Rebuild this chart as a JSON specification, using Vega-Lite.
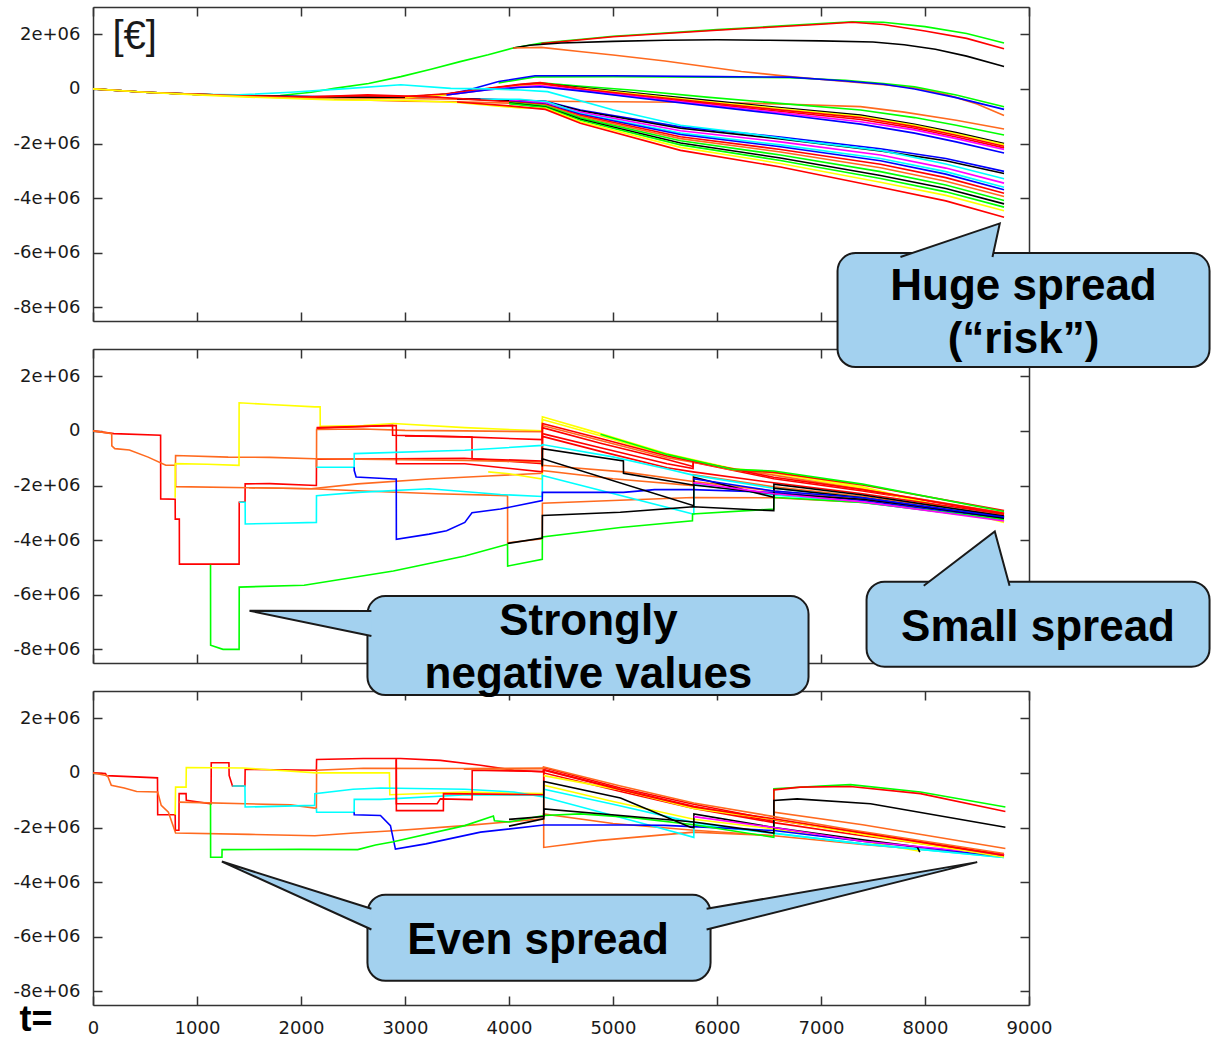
{
"$schema": "https://vega.github.io/schema/vega-lite/v6.json",
"padding": {"left": 12, "top": 6, "right": 0, "bottom": 0},
"bounds": "flush",
"spacing": 28,
"config": {
  "view": {"stroke": null},
  "axis": {"grid": false, "domainColor": "#333333", "domainWidth": 1.5, "tickColor": "#333333", "tickWidth": 1.5, "tickSize": -9, "labelFont": "DejaVu Sans", "labelFontSize": 18, "labelColor": "#1a1a1a", "labelOverlap": false, "labelFlush": false}
},
"datasets": {
"p1": [
{"s":"a1","c":"g","t":0,"v":0},{"s":"a1","c":"g","t":500,"v":-0.12e6},{"s":"a1","c":"g","t":1000,"v":-0.2e6},{"s":"a1","c":"g","t":1500,"v":-0.25e6},{"s":"a1","c":"g","t":1800,"v":-0.24e6},{"s":"a1","c":"g","t":2100,"v":-0.12e6},{"s":"a1","c":"g","t":2320,"v":0.02e6},{"s":"a1","c":"g","t":2650,"v":0.2e6},{"s":"a1","c":"g","t":2960,"v":0.45e6},{"s":"a1","c":"g","t":3250,"v":0.72e6},{"s":"a1","c":"g","t":3530,"v":1.0e6},{"s":"a1","c":"g","t":3800,"v":1.25e6},{"s":"a1","c":"g","t":4040,"v":1.5e6},{"s":"a1","c":"g","t":4310,"v":1.68e6},{"s":"a1","c":"g","t":4700,"v":1.82e6},{"s":"a1","c":"g","t":5000,"v":1.93e6},{"s":"a1","c":"g","t":5500,"v":2.05e6},{"s":"a1","c":"g","t":6000,"v":2.17e6},{"s":"a1","c":"g","t":6500,"v":2.28e6},{"s":"a1","c":"g","t":7000,"v":2.39e6},{"s":"a1","c":"g","t":7300,"v":2.46e6},{"s":"a1","c":"g","t":7600,"v":2.44e6},{"s":"a1","c":"g","t":8000,"v":2.28e6},{"s":"a1","c":"g","t":8400,"v":2.03e6},{"s":"a1","c":"g","t":8760,"v":1.68e6},
{"s":"a2","c":"r","t":4310,"v":1.66e6},{"s":"a2","c":"r","t":4700,"v":1.8e6},{"s":"a2","c":"r","t":5000,"v":1.91e6},{"s":"a2","c":"r","t":5500,"v":2.03e6},{"s":"a2","c":"r","t":6000,"v":2.15e6},{"s":"a2","c":"r","t":6500,"v":2.26e6},{"s":"a2","c":"r","t":7000,"v":2.37e6},{"s":"a2","c":"r","t":7300,"v":2.44e6},{"s":"a2","c":"r","t":7600,"v":2.36e6},{"s":"a2","c":"r","t":8000,"v":2.12e6},{"s":"a2","c":"r","t":8400,"v":1.85e6},{"s":"a2","c":"r","t":8760,"v":1.47e6},
{"s":"a3","c":"k","t":4040,"v":1.5e6},{"s":"a3","c":"k","t":4200,"v":1.6e6},{"s":"a3","c":"k","t":4500,"v":1.68e6},{"s":"a3","c":"k","t":5000,"v":1.74e6},{"s":"a3","c":"k","t":5500,"v":1.78e6},{"s":"a3","c":"k","t":6000,"v":1.8e6},{"s":"a3","c":"k","t":6500,"v":1.78e6},{"s":"a3","c":"k","t":7000,"v":1.76e6},{"s":"a3","c":"k","t":7500,"v":1.72e6},{"s":"a3","c":"k","t":7800,"v":1.62e6},{"s":"a3","c":"k","t":8100,"v":1.45e6},{"s":"a3","c":"k","t":8400,"v":1.2e6},{"s":"a3","c":"k","t":8760,"v":0.82e6},
{"s":"a4","c":"o","t":4040,"v":1.5e6},{"s":"a4","c":"o","t":4310,"v":1.52e6},{"s":"a4","c":"o","t":4700,"v":1.36e6},{"s":"a4","c":"o","t":5000,"v":1.24e6},{"s":"a4","c":"o","t":5500,"v":1.02e6},{"s":"a4","c":"o","t":6235,"v":0.64e6},{"s":"a4","c":"o","t":6700,"v":0.45e6},{"s":"a4","c":"o","t":7235,"v":0.27e6},{"s":"a4","c":"o","t":7600,"v":0.15e6},{"s":"a4","c":"o","t":7900,"v":0.04e6},{"s":"a4","c":"o","t":8200,"v":-0.2e6},{"s":"a4","c":"o","t":8500,"v":-0.55e6},{"s":"a4","c":"o","t":8760,"v":-0.97e6},
{"s":"a5","c":"g","t":3900,"v":0.22e6},{"s":"a5","c":"g","t":4250,"v":0.44e6},{"s":"a5","c":"g","t":5000,"v":0.45e6},{"s":"a5","c":"g","t":6000,"v":0.43e6},{"s":"a5","c":"g","t":6700,"v":0.41e6},{"s":"a5","c":"g","t":7235,"v":0.32e6},{"s":"a5","c":"g","t":7600,"v":0.2e6},{"s":"a5","c":"g","t":7900,"v":0.08e6},{"s":"a5","c":"g","t":8300,"v":-0.22e6},{"s":"a5","c":"g","t":8760,"v":-0.65e6},
{"s":"a6","c":"b","t":0,"v":0},{"s":"a6","c":"b","t":500,"v":-0.12e6},{"s":"a6","c":"b","t":1000,"v":-0.2e6},{"s":"a6","c":"b","t":1500,"v":-0.25e6},{"s":"a6","c":"b","t":2500,"v":-0.3e6},{"s":"a6","c":"b","t":3000,"v":-0.32e6},{"s":"a6","c":"b","t":3300,"v":-0.27e6},{"s":"a6","c":"b","t":3600,"v":-0.05e6},{"s":"a6","c":"b","t":3900,"v":0.27e6},{"s":"a6","c":"b","t":4250,"v":0.48e6},{"s":"a6","c":"b","t":5000,"v":0.48e6},{"s":"a6","c":"b","t":6000,"v":0.45e6},{"s":"a6","c":"b","t":6700,"v":0.43e6},{"s":"a6","c":"b","t":7235,"v":0.29e6},{"s":"a6","c":"b","t":7600,"v":0.17e6},{"s":"a6","c":"b","t":7900,"v":0},{"s":"a6","c":"b","t":8300,"v":-0.32e6},{"s":"a6","c":"b","t":8760,"v":-0.75e6},
{"s":"b1","c":"o","t":0,"v":0},{"s":"b1","c":"o","t":500,"v":-0.12e6},{"s":"b1","c":"o","t":1000,"v":-0.2e6},{"s":"b1","c":"o","t":1500,"v":-0.25e6},{"s":"b1","c":"o","t":2000,"v":-0.3e6},{"s":"b1","c":"o","t":2500,"v":-0.33e6},{"s":"b1","c":"o","t":3000,"v":-0.35e6},{"s":"b1","c":"o","t":3500,"v":-0.38e6},{"s":"b1","c":"o","t":4000,"v":-0.42e6},{"s":"b1","c":"o","t":4300,"v":-0.45e6},{"s":"b1","c":"o","t":5000,"v":-0.47e6},{"s":"b1","c":"o","t":6000,"v":-0.5e6},{"s":"b1","c":"o","t":6700,"v":-0.56e6},{"s":"b1","c":"o","t":7380,"v":-0.65e6},{"s":"b1","c":"o","t":7800,"v":-0.85e6},{"s":"b1","c":"o","t":8300,"v":-1.15e6},{"s":"b1","c":"o","t":8760,"v":-1.47e6},
{"s":"b2","c":"g","t":3000,"v":-0.3e6},{"s":"b2","c":"g","t":3400,"v":-0.2e6},{"s":"b2","c":"g","t":3800,"v":0},{"s":"b2","c":"g","t":4100,"v":0.15e6},{"s":"b2","c":"g","t":4300,"v":0.22e6},{"s":"b2","c":"g","t":4700,"v":0.1e6},{"s":"b2","c":"g","t":5200,"v":-0.05e6},{"s":"b2","c":"g","t":5900,"v":-0.3e6},{"s":"b2","c":"g","t":6570,"v":-0.52e6},{"s":"b2","c":"g","t":7380,"v":-0.77e6},{"s":"b2","c":"g","t":7900,"v":-1.05e6},{"s":"b2","c":"g","t":8300,"v":-1.33e6},{"s":"b2","c":"g","t":8760,"v":-1.69e6},
{"s":"b3","c":"k","t":0,"v":0},{"s":"b3","c":"k","t":500,"v":-0.12e6},{"s":"b3","c":"k","t":1000,"v":-0.2e6},{"s":"b3","c":"k","t":1500,"v":-0.25e6},{"s":"b3","c":"k","t":2000,"v":-0.28e6},{"s":"b3","c":"k","t":2500,"v":-0.3e6},{"s":"b3","c":"k","t":3000,"v":-0.3e6},{"s":"b3","c":"k","t":3400,"v":-0.2e6},{"s":"b3","c":"k","t":3800,"v":0},{"s":"b3","c":"k","t":4100,"v":0.14e6},{"s":"b3","c":"k","t":4300,"v":0.2e6},{"s":"b3","c":"k","t":4745,"v":0.03e6},{"s":"b3","c":"k","t":5245,"v":-0.16e6},{"s":"b3","c":"k","t":5908,"v":-0.42e6},{"s":"b3","c":"k","t":6572,"v":-0.67e6},{"s":"b3","c":"k","t":7380,"v":-0.96e6},{"s":"b3","c":"k","t":7900,"v":-1.3e6},{"s":"b3","c":"k","t":8300,"v":-1.6e6},{"s":"b3","c":"k","t":8760,"v":-2.0e6},
{"s":"b4","c":"y","t":3000,"v":-0.32e6},{"s":"b4","c":"y","t":3400,"v":-0.22e6},{"s":"b4","c":"y","t":3800,"v":-0.02e6},{"s":"b4","c":"y","t":4100,"v":0.12e6},{"s":"b4","c":"y","t":4300,"v":0.17e6},{"s":"b4","c":"y","t":4745,"v":0},{"s":"b4","c":"y","t":5245,"v":-0.2e6},{"s":"b4","c":"y","t":5908,"v":-0.46e6},{"s":"b4","c":"y","t":6572,"v":-0.71e6},{"s":"b4","c":"y","t":7380,"v":-1.0e6},{"s":"b4","c":"y","t":7900,"v":-1.33e6},{"s":"b4","c":"y","t":8300,"v":-1.64e6},{"s":"b4","c":"y","t":8760,"v":-2.04e6},
{"s":"b5","c":"r","t":0,"v":0},{"s":"b5","c":"r","t":500,"v":-0.12e6},{"s":"b5","c":"r","t":1000,"v":-0.2e6},{"s":"b5","c":"r","t":1500,"v":-0.26e6},{"s":"b5","c":"r","t":2000,"v":-0.3e6},{"s":"b5","c":"r","t":2500,"v":-0.25e6},{"s":"b5","c":"r","t":3000,"v":-0.28e6},{"s":"b5","c":"r","t":3400,"v":-0.18e6},{"s":"b5","c":"r","t":3800,"v":0.02e6},{"s":"b5","c":"r","t":4100,"v":0.17e6},{"s":"b5","c":"r","t":4300,"v":0.23e6},{"s":"b5","c":"r","t":4745,"v":-0.02e6},{"s":"b5","c":"r","t":5245,"v":-0.23e6},{"s":"b5","c":"r","t":5908,"v":-0.5e6},{"s":"b5","c":"r","t":6572,"v":-0.76e6},{"s":"b5","c":"r","t":7380,"v":-1.05e6},{"s":"b5","c":"r","t":7900,"v":-1.38e6},{"s":"b5","c":"r","t":8300,"v":-1.7e6},{"s":"b5","c":"r","t":8760,"v":-2.1e6},
{"s":"b6","c":"r","t":3400,"v":-0.2e6},{"s":"b6","c":"r","t":3800,"v":0},{"s":"b6","c":"r","t":4100,"v":0.15e6},{"s":"b6","c":"r","t":4300,"v":0.2e6},{"s":"b6","c":"r","t":4745,"v":-0.05e6},{"s":"b6","c":"r","t":5245,"v":-0.27e6},{"s":"b6","c":"r","t":5908,"v":-0.54e6},{"s":"b6","c":"r","t":6572,"v":-0.81e6},{"s":"b6","c":"r","t":7380,"v":-1.12e6},{"s":"b6","c":"r","t":7900,"v":-1.44e6},{"s":"b6","c":"r","t":8300,"v":-1.76e6},{"s":"b6","c":"r","t":8760,"v":-2.16e6},
{"s":"b7","c":"m","t":3400,"v":-0.22e6},{"s":"b7","c":"m","t":3800,"v":-0.03e6},{"s":"b7","c":"m","t":4100,"v":0.08e6},{"s":"b7","c":"m","t":4300,"v":0.12e6},{"s":"b7","c":"m","t":4745,"v":-0.08e6},{"s":"b7","c":"m","t":5245,"v":-0.3e6},{"s":"b7","c":"m","t":5908,"v":-0.58e6},{"s":"b7","c":"m","t":6572,"v":-0.86e6},{"s":"b7","c":"m","t":7380,"v":-1.2e6},{"s":"b7","c":"m","t":7900,"v":-1.5e6},{"s":"b7","c":"m","t":8300,"v":-1.82e6},{"s":"b7","c":"m","t":8760,"v":-2.22e6},
{"s":"b8","c":"b","t":3400,"v":-0.22e6},{"s":"b8","c":"b","t":3800,"v":-0.03e6},{"s":"b8","c":"b","t":4100,"v":0.05e6},{"s":"b8","c":"b","t":4300,"v":0.08e6},{"s":"b8","c":"b","t":4745,"v":-0.1e6},{"s":"b8","c":"b","t":5245,"v":-0.33e6},{"s":"b8","c":"b","t":5908,"v":-0.62e6},{"s":"b8","c":"b","t":6572,"v":-0.91e6},{"s":"b8","c":"b","t":7380,"v":-1.29e6},{"s":"b8","c":"b","t":7900,"v":-1.62e6},{"s":"b8","c":"b","t":8300,"v":-1.94e6},{"s":"b8","c":"b","t":8760,"v":-2.35e6},
{"s":"c1","c":"b","t":3500,"v":-0.36e6},{"s":"c1","c":"b","t":4000,"v":-0.4e6},{"s":"c1","c":"b","t":4350,"v":-0.45e6},{"s":"c1","c":"b","t":4687,"v":-0.77e6},{"s":"c1","c":"b","t":5649,"v":-1.39e6},{"s":"c1","c":"b","t":6610,"v":-1.76e6},{"s":"c1","c":"b","t":7572,"v":-2.19e6},{"s":"c1","c":"b","t":8200,"v":-2.55e6},{"s":"c1","c":"b","t":8760,"v":-3.02e6},
{"s":"c2","c":"k","t":3500,"v":-0.36e6},{"s":"c2","c":"k","t":4000,"v":-0.41e6},{"s":"c2","c":"k","t":4350,"v":-0.47e6},{"s":"c2","c":"k","t":4687,"v":-0.8e6},{"s":"c2","c":"k","t":5649,"v":-1.44e6},{"s":"c2","c":"k","t":6610,"v":-1.83e6},{"s":"c2","c":"k","t":7572,"v":-2.27e6},{"s":"c2","c":"k","t":8200,"v":-2.63e6},{"s":"c2","c":"k","t":8760,"v":-3.1e6},
{"s":"c3","c":"c","t":0,"v":0},{"s":"c3","c":"c","t":500,"v":-0.12e6},{"s":"c3","c":"c","t":1000,"v":-0.2e6},{"s":"c3","c":"c","t":1400,"v":-0.22e6},{"s":"c3","c":"c","t":1900,"v":-0.12e6},{"s":"c3","c":"c","t":2400,"v":0},{"s":"c3","c":"c","t":2960,"v":0.15e6},{"s":"c3","c":"c","t":3440,"v":0.02e6},{"s":"c3","c":"c","t":3800,"v":0},{"s":"c3","c":"c","t":4110,"v":-0.04e6},{"s":"c3","c":"c","t":4370,"v":-0.1e6},{"s":"c3","c":"c","t":5005,"v":-0.77e6},{"s":"c3","c":"c","t":5649,"v":-1.33e6},{"s":"c3","c":"c","t":6292,"v":-1.63e6},{"s":"c3","c":"c","t":6900,"v":-1.95e6},{"s":"c3","c":"c","t":7572,"v":-2.25e6},{"s":"c3","c":"c","t":8200,"v":-2.75e6},{"s":"c3","c":"c","t":8760,"v":-3.29e6},
{"s":"c4","c":"m","t":4000,"v":-0.42e6},{"s":"c4","c":"m","t":4350,"v":-0.5e6},{"s":"c4","c":"m","t":4687,"v":-0.85e6},{"s":"c4","c":"m","t":5649,"v":-1.53e6},{"s":"c4","c":"m","t":6610,"v":-1.94e6},{"s":"c4","c":"m","t":7572,"v":-2.42e6},{"s":"c4","c":"m","t":8200,"v":-2.9e6},{"s":"c4","c":"m","t":8760,"v":-3.45e6},
{"s":"c5","c":"c","t":3726,"v":-0.38e6},{"s":"c5","c":"c","t":4100,"v":-0.38e6},{"s":"c5","c":"c","t":4367,"v":-0.47e6},{"s":"c5","c":"c","t":4687,"v":-0.9e6},{"s":"c5","c":"c","t":5649,"v":-1.62e6},{"s":"c5","c":"c","t":6610,"v":-2.05e6},{"s":"c5","c":"c","t":7572,"v":-2.55e6},{"s":"c5","c":"c","t":8200,"v":-3.03e6},{"s":"c5","c":"c","t":8760,"v":-3.6e6},
{"s":"c6","c":"b","t":4000,"v":-0.45e6},{"s":"c6","c":"b","t":4350,"v":-0.55e6},{"s":"c6","c":"b","t":4687,"v":-0.93e6},{"s":"c6","c":"b","t":5649,"v":-1.67e6},{"s":"c6","c":"b","t":6610,"v":-2.12e6},{"s":"c6","c":"b","t":7572,"v":-2.63e6},{"s":"c6","c":"b","t":8200,"v":-3.12e6},{"s":"c6","c":"b","t":8760,"v":-3.69e6},
{"s":"c7","c":"r","t":0,"v":0},{"s":"c7","c":"r","t":500,"v":-0.12e6},{"s":"c7","c":"r","t":1000,"v":-0.2e6},{"s":"c7","c":"r","t":1500,"v":-0.26e6},{"s":"c7","c":"r","t":2000,"v":-0.31e6},{"s":"c7","c":"r","t":2640,"v":-0.22e6},{"s":"c7","c":"r","t":3300,"v":-0.3e6},{"s":"c7","c":"r","t":4000,"v":-0.47e6},{"s":"c7","c":"r","t":4350,"v":-0.57e6},{"s":"c7","c":"r","t":4687,"v":-0.97e6},{"s":"c7","c":"r","t":5649,"v":-1.75e6},{"s":"c7","c":"r","t":6610,"v":-2.22e6},{"s":"c7","c":"r","t":7572,"v":-2.76e6},{"s":"c7","c":"r","t":8200,"v":-3.25e6},{"s":"c7","c":"r","t":8760,"v":-3.82e6},
{"s":"c8","c":"o","t":0,"v":0},{"s":"c8","c":"o","t":500,"v":-0.12e6},{"s":"c8","c":"o","t":1000,"v":-0.2e6},{"s":"c8","c":"o","t":1500,"v":-0.28e6},{"s":"c8","c":"o","t":2000,"v":-0.34e6},{"s":"c8","c":"o","t":3000,"v":-0.45e6},{"s":"c8","c":"o","t":3500,"v":-0.47e6},{"s":"c8","c":"o","t":4000,"v":-0.52e6},{"s":"c8","c":"o","t":4350,"v":-0.6e6},{"s":"c8","c":"o","t":4687,"v":-1.01e6},{"s":"c8","c":"o","t":5649,"v":-1.82e6},{"s":"c8","c":"o","t":6610,"v":-2.31e6},{"s":"c8","c":"o","t":7572,"v":-2.89e6},{"s":"c8","c":"o","t":8200,"v":-3.38e6},{"s":"c8","c":"o","t":8760,"v":-3.94e6},
{"s":"c9","c":"g","t":4000,"v":-0.5e6},{"s":"c9","c":"g","t":4350,"v":-0.63e6},{"s":"c9","c":"g","t":4687,"v":-1.06e6},{"s":"c9","c":"g","t":5649,"v":-1.9e6},{"s":"c9","c":"g","t":6610,"v":-2.42e6},{"s":"c9","c":"g","t":7572,"v":-3.03e6},{"s":"c9","c":"g","t":8200,"v":-3.52e6},{"s":"c9","c":"g","t":8760,"v":-4.09e6},
{"s":"c10","c":"k","t":4000,"v":-0.52e6},{"s":"c10","c":"k","t":4350,"v":-0.66e6},{"s":"c10","c":"k","t":4687,"v":-1.11e6},{"s":"c10","c":"k","t":5649,"v":-1.98e6},{"s":"c10","c":"k","t":6610,"v":-2.53e6},{"s":"c10","c":"k","t":7572,"v":-3.17e6},{"s":"c10","c":"k","t":8200,"v":-3.65e6},{"s":"c10","c":"k","t":8760,"v":-4.21e6},
{"s":"c11","c":"g","t":4000,"v":-0.54e6},{"s":"c11","c":"g","t":4350,"v":-0.68e6},{"s":"c11","c":"g","t":4687,"v":-1.15e6},{"s":"c11","c":"g","t":5649,"v":-2.05e6},{"s":"c11","c":"g","t":6610,"v":-2.62e6},{"s":"c11","c":"g","t":7572,"v":-3.28e6},{"s":"c11","c":"g","t":8200,"v":-3.77e6},{"s":"c11","c":"g","t":8760,"v":-4.33e6},
{"s":"c12","c":"y","t":0,"v":0},{"s":"c12","c":"y","t":500,"v":-0.12e6},{"s":"c12","c":"y","t":1000,"v":-0.22e6},{"s":"c12","c":"y","t":1500,"v":-0.3e6},{"s":"c12","c":"y","t":2316,"v":-0.4e6},{"s":"c12","c":"y","t":3000,"v":-0.42e6},{"s":"c12","c":"y","t":3500,"v":-0.5e6},{"s":"c12","c":"y","t":4110,"v":-0.7e6},{"s":"c12","c":"y","t":4350,"v":-0.71e6},{"s":"c12","c":"y","t":4687,"v":-1.2e6},{"s":"c12","c":"y","t":5649,"v":-2.14e6},{"s":"c12","c":"y","t":6610,"v":-2.73e6},{"s":"c12","c":"y","t":7572,"v":-3.42e6},{"s":"c12","c":"y","t":8200,"v":-3.9e6},{"s":"c12","c":"y","t":8760,"v":-4.46e6},
{"s":"c13","c":"r","t":3500,"v":-0.48e6},{"s":"c13","c":"r","t":4000,"v":-0.62e6},{"s":"c13","c":"r","t":4350,"v":-0.75e6},{"s":"c13","c":"r","t":4687,"v":-1.26e6},{"s":"c13","c":"r","t":5649,"v":-2.25e6},{"s":"c13","c":"r","t":6610,"v":-2.86e6},{"s":"c13","c":"r","t":7572,"v":-3.6e6},{"s":"c13","c":"r","t":8200,"v":-4.1e6},{"s":"c13","c":"r","t":8760,"v":-4.7e6}
],
"p2": [
{"s":"d1","c":"r","t":0,"v":0},{"s":"d1","c":"r","t":200,"v":-0.1e6},{"s":"d1","c":"r","t":650,"v":-0.16e6},{"s":"d1","c":"r","t":651,"v":-2.49e6},{"s":"d1","c":"r","t":790,"v":-2.5e6},{"s":"d1","c":"r","t":791,"v":-3.23e6},{"s":"d1","c":"r","t":830,"v":-3.23e6},{"s":"d1","c":"r","t":831,"v":-4.88e6},{"s":"d1","c":"r","t":1405,"v":-4.88e6},{"s":"d1","c":"r","t":1406,"v":-2.61e6},{"s":"d1","c":"r","t":1462,"v":-2.6e6},{"s":"d1","c":"r","t":1463,"v":-1.94e6},{"s":"d1","c":"r","t":1700,"v":-1.93e6},{"s":"d1","c":"r","t":2148,"v":-2.0e6},{"s":"d1","c":"r","t":2149,"v":-1.04e6},{"s":"d1","c":"r","t":2900,"v":-1.02e6},{"s":"d1","c":"r","t":3570,"v":-1.0e6},{"s":"d1","c":"r","t":4320,"v":-1.2e6},{"s":"d1","c":"r","t":4321,"v":-0.1e6},{"s":"d1","c":"r","t":4880,"v":-0.62e6},{"s":"d1","c":"r","t":5520,"v":-1.2e6},{"s":"d1","c":"r","t":5770,"v":-1.38e6},{"s":"d1","c":"r","t":5771,"v":-1.15e6},{"s":"d1","c":"r","t":6546,"v":-1.75e6},{"s":"d1","c":"r","t":7400,"v":-2.2e6},{"s":"d1","c":"r","t":8000,"v":-2.55e6},{"s":"d1","c":"r","t":8760,"v":-3.05e6},
{"s":"d2","c":"o","t":0,"v":0},{"s":"d2","c":"o","t":150,"v":-0.08e6},{"s":"d2","c":"o","t":180,"v":-0.1e6},{"s":"d2","c":"o","t":181,"v":-0.55e6},{"s":"d2","c":"o","t":210,"v":-0.65e6},{"s":"d2","c":"o","t":350,"v":-0.7e6},{"s":"d2","c":"o","t":530,"v":-0.96e6},{"s":"d2","c":"o","t":700,"v":-1.26e6},{"s":"d2","c":"o","t":793,"v":-1.26e6},{"s":"d2","c":"o","t":794,"v":-0.9e6},{"s":"d2","c":"o","t":1300,"v":-0.96e6},{"s":"d2","c":"o","t":1700,"v":-0.97e6},{"s":"d2","c":"o","t":2133,"v":-1.02e6},{"s":"d2","c":"o","t":3000,"v":-1.05e6},{"s":"d2","c":"o","t":3575,"v":-1.08e6},{"s":"d2","c":"o","t":4320,"v":-1.14e6},{"s":"d2","c":"o","t":4321,"v":-1.45e6},{"s":"d2","c":"o","t":5000,"v":-1.75e6},{"s":"d2","c":"o","t":5770,"v":-2.0e6},{"s":"d2","c":"o","t":5771,"v":-1.6e6},{"s":"d2","c":"o","t":6546,"v":-2.05e6},{"s":"d2","c":"o","t":7400,"v":-2.4e6},{"s":"d2","c":"o","t":8760,"v":-3.1e6},
{"s":"d3","c":"o","t":794,"v":-1.26e6},{"s":"d3","c":"o","t":795,"v":-2.04e6},{"s":"d3","c":"o","t":1500,"v":-2.08e6},{"s":"d3","c":"o","t":2099,"v":-2.12e6},{"s":"d3","c":"o","t":2545,"v":-1.94e6},{"s":"d3","c":"o","t":3232,"v":-1.76e6},{"s":"d3","c":"o","t":3800,"v":-1.65e6},{"s":"d3","c":"o","t":4320,"v":-1.55e6},{"s":"d3","c":"o","t":4321,"v":-1.26e6},{"s":"d3","c":"o","t":5100,"v":-1.5e6},{"s":"d3","c":"o","t":5770,"v":-1.85e6},{"s":"d3","c":"o","t":6546,"v":-2.2e6},{"s":"d3","c":"o","t":7400,"v":-2.5e6},{"s":"d3","c":"o","t":8760,"v":-3.15e6},
{"s":"d4","c":"o","t":1500,"v":-2.08e6},{"s":"d4","c":"o","t":2099,"v":-2.12e6},{"s":"d4","c":"o","t":2600,"v":-2.2e6},{"s":"d4","c":"o","t":3300,"v":-2.3e6},{"s":"d4","c":"o","t":3986,"v":-2.37e6},{"s":"d4","c":"o","t":3987,"v":-4.1e6},{"s":"d4","c":"o","t":4320,"v":-3.95e6},{"s":"d4","c":"o","t":4321,"v":-2.65e6},{"s":"d4","c":"o","t":5000,"v":-2.55e6},{"s":"d4","c":"o","t":5770,"v":-2.44e6},{"s":"d4","c":"o","t":6546,"v":-2.45e6},{"s":"d4","c":"o","t":7400,"v":-2.62e6},{"s":"d4","c":"o","t":8760,"v":-3.15e6},
{"s":"d5","c":"y","t":790,"v":-2.45e6},{"s":"d5","c":"y","t":791,"v":-1.2e6},{"s":"d5","c":"y","t":1100,"v":-1.22e6},{"s":"d5","c":"y","t":1404,"v":-1.26e6},{"s":"d5","c":"y","t":1405,"v":1.03e6},{"s":"d5","c":"y","t":1700,"v":0.97e6},{"s":"d5","c":"y","t":2133,"v":0.88e6},{"s":"d5","c":"y","t":2184,"v":0.88e6},{"s":"d5","c":"y","t":2185,"v":0.17e6},{"s":"d5","c":"y","t":2600,"v":0.2e6},{"s":"d5","c":"y","t":2888,"v":0.27e6},{"s":"d5","c":"y","t":3575,"v":0.12e6},{"s":"d5","c":"y","t":4320,"v":0},{"s":"d5","c":"y","t":4321,"v":0.52e6},{"s":"d5","c":"y","t":4880,"v":-0.1e6},{"s":"d5","c":"y","t":5520,"v":-0.84e6},{"s":"d5","c":"y","t":6160,"v":-1.39e6},{"s":"d5","c":"y","t":6546,"v":-1.5e6},{"s":"d5","c":"y","t":7400,"v":-2.05e6},{"s":"d5","c":"y","t":8000,"v":-2.6e6},{"s":"d5","c":"y","t":8760,"v":-3.35e6},
{"s":"d6","c":"y","t":3800,"v":-1.5e6},{"s":"d6","c":"y","t":4000,"v":-1.57e6},{"s":"d6","c":"y","t":4320,"v":-1.76e6},{"s":"d6","c":"y","t":4321,"v":0.42e6},{"s":"d6","c":"y","t":4880,"v":-0.18e6},{"s":"d6","c":"y","t":5520,"v":-0.9e6},{"s":"d6","c":"y","t":6160,"v":-1.43e6},{"s":"d6","c":"y","t":6546,"v":-1.55e6},{"s":"d6","c":"y","t":7400,"v":-2.1e6},{"s":"d6","c":"y","t":8760,"v":-3.3e6},
{"s":"d7","c":"o","t":2149,"v":-1.33e6},{"s":"d7","c":"o","t":2150,"v":0.05e6},{"s":"d7","c":"o","t":2600,"v":0.07e6},{"s":"d7","c":"o","t":3000,"v":0.02e6},{"s":"d7","c":"o","t":3575,"v":0},{"s":"d7","c":"o","t":4320,"v":-0.03e6},{"s":"d7","c":"o","t":4321,"v":0.2e6},{"s":"d7","c":"o","t":4880,"v":-0.35e6},{"s":"d7","c":"o","t":5520,"v":-0.98e6},{"s":"d7","c":"o","t":5770,"v":-1.15e6},{"s":"d7","c":"o","t":6546,"v":-1.62e6},{"s":"d7","c":"o","t":7400,"v":-2.15e6},{"s":"d7","c":"o","t":8760,"v":-3.0e6},
{"s":"d8","c":"r","t":2150,"v":0.1e6},{"s":"d8","c":"r","t":2880,"v":0.2e6},{"s":"d8","c":"r","t":2881,"v":-0.16e6},{"s":"d8","c":"r","t":3575,"v":-0.22e6},{"s":"d8","c":"r","t":4320,"v":-0.32e6},{"s":"d8","c":"r","t":4321,"v":0.27e6},{"s":"d8","c":"r","t":4880,"v":-0.28e6},{"s":"d8","c":"r","t":5520,"v":-0.92e6},{"s":"d8","c":"r","t":6160,"v":-1.42e6},{"s":"d8","c":"r","t":6546,"v":-1.52e6},{"s":"d8","c":"r","t":7400,"v":-1.98e6},{"s":"d8","c":"r","t":8760,"v":-2.92e6},
{"s":"d9","c":"r","t":2150,"v":0.12e6},{"s":"d9","c":"r","t":2916,"v":0.2e6},{"s":"d9","c":"r","t":2917,"v":-1.2e6},{"s":"d9","c":"r","t":3575,"v":-1.2e6},{"s":"d9","c":"r","t":4320,"v":-1.5e6},{"s":"d9","c":"r","t":4321,"v":0.12e6},{"s":"d9","c":"r","t":4880,"v":-0.45e6},{"s":"d9","c":"r","t":5520,"v":-1.05e6},{"s":"d9","c":"r","t":5770,"v":-1.3e6},{"s":"d9","c":"r","t":5771,"v":-1.1e6},{"s":"d9","c":"r","t":6546,"v":-1.7e6},{"s":"d9","c":"r","t":7400,"v":-2.15e6},{"s":"d9","c":"r","t":8760,"v":-3.02e6},
{"s":"d10","c":"r","t":3000,"v":-0.18e6},{"s":"d10","c":"r","t":3644,"v":-0.22e6},{"s":"d10","c":"r","t":3645,"v":-1.02e6},{"s":"d10","c":"r","t":4320,"v":-1.1e6},{"s":"d10","c":"r","t":4321,"v":-0.2e6},{"s":"d10","c":"r","t":4880,"v":-0.75e6},{"s":"d10","c":"r","t":5520,"v":-1.35e6},{"s":"d10","c":"r","t":5770,"v":-1.5e6},{"s":"d10","c":"r","t":6546,"v":-1.9e6},{"s":"d10","c":"r","t":7400,"v":-2.3e6},{"s":"d10","c":"r","t":8760,"v":-3.05e6},
{"s":"d11","c":"c","t":1406,"v":-2.61e6},{"s":"d11","c":"c","t":1463,"v":-2.61e6},{"s":"d11","c":"c","t":1464,"v":-3.41e6},{"s":"d11","c":"c","t":1800,"v":-3.38e6},{"s":"d11","c":"c","t":2148,"v":-3.35e6},{"s":"d11","c":"c","t":2149,"v":-2.37e6},{"s":"d11","c":"c","t":2545,"v":-2.25e6},{"s":"d11","c":"c","t":3232,"v":-2.12e6},{"s":"d11","c":"c","t":3918,"v":-2.33e6},{"s":"d11","c":"c","t":4320,"v":-2.4e6},{"s":"d11","c":"c","t":4321,"v":-1.63e6},{"s":"d11","c":"c","t":5777,"v":-3.05e6},{"s":"d11","c":"c","t":5778,"v":-1.95e6},{"s":"d11","c":"c","t":6546,"v":-2.35e6},{"s":"d11","c":"c","t":7400,"v":-2.62e6},{"s":"d11","c":"c","t":8760,"v":-3.25e6},
{"s":"d12","c":"c","t":2149,"v":-1.33e6},{"s":"d12","c":"c","t":2511,"v":-1.33e6},{"s":"d12","c":"c","t":2512,"v":-0.83e6},{"s":"d12","c":"c","t":3575,"v":-0.71e6},{"s":"d12","c":"c","t":4320,"v":-0.53e6},{"s":"d12","c":"c","t":4321,"v":-0.5e6},{"s":"d12","c":"c","t":5000,"v":-0.95e6},{"s":"d12","c":"c","t":5500,"v":-1.38e6},{"s":"d12","c":"c","t":5770,"v":-1.62e6},{"s":"d12","c":"c","t":6546,"v":-2.1e6},{"s":"d12","c":"c","t":7400,"v":-2.45e6},{"s":"d12","c":"c","t":8760,"v":-3.2e6},
{"s":"d13","c":"b","t":2511,"v":-1.33e6},{"s":"d13","c":"b","t":2512,"v":-1.45e6},{"s":"d13","c":"b","t":2530,"v":-1.69e6},{"s":"d13","c":"b","t":2888,"v":-1.76e6},{"s":"d13","c":"b","t":2916,"v":-1.76e6},{"s":"d13","c":"b","t":2917,"v":-3.97e6},{"s":"d13","c":"b","t":3232,"v":-3.78e6},{"s":"d13","c":"b","t":3400,"v":-3.66e6},{"s":"d13","c":"b","t":3575,"v":-3.35e6},{"s":"d13","c":"b","t":3644,"v":-3.0e6},{"s":"d13","c":"b","t":3918,"v":-2.86e6},{"s":"d13","c":"b","t":4320,"v":-2.55e6},{"s":"d13","c":"b","t":4321,"v":-2.25e6},{"s":"d13","c":"b","t":5100,"v":-2.25e6},{"s":"d13","c":"b","t":5400,"v":-2.15e6},{"s":"d13","c":"b","t":5770,"v":-2.15e6},{"s":"d13","c":"b","t":6546,"v":-2.25e6},{"s":"d13","c":"b","t":7400,"v":-2.55e6},{"s":"d13","c":"b","t":8760,"v":-3.2e6},
{"s":"d14","c":"g","t":1130,"v":-4.9e6},{"s":"d14","c":"g","t":1131,"v":-7.85e6},{"s":"d14","c":"g","t":1250,"v":-8.0e6},{"s":"d14","c":"g","t":1405,"v":-8.0e6},{"s":"d14","c":"g","t":1406,"v":-5.72e6},{"s":"d14","c":"g","t":2030,"v":-5.65e6},{"s":"d14","c":"g","t":2888,"v":-5.13e6},{"s":"d14","c":"g","t":3575,"v":-4.58e6},{"s":"d14","c":"g","t":3986,"v":-4.15e6},{"s":"d14","c":"g","t":3987,"v":-4.95e6},{"s":"d14","c":"g","t":4320,"v":-4.7e6},{"s":"d14","c":"g","t":4321,"v":-3.88e6},{"s":"d14","c":"g","t":5070,"v":-3.54e6},{"s":"d14","c":"g","t":5764,"v":-3.29e6},{"s":"d14","c":"g","t":5765,"v":-3.04e6},{"s":"d14","c":"g","t":6546,"v":-2.86e6},{"s":"d14","c":"g","t":6547,"v":-2.43e6},{"s":"d14","c":"g","t":7400,"v":-2.62e6},{"s":"d14","c":"g","t":8760,"v":-3.25e6},
{"s":"d15","c":"k","t":3987,"v":-4.12e6},{"s":"d15","c":"k","t":4320,"v":-3.92e6},{"s":"d15","c":"k","t":4321,"v":-3.1e6},{"s":"d15","c":"k","t":5070,"v":-2.98e6},{"s":"d15","c":"k","t":5770,"v":-2.78e6},{"s":"d15","c":"k","t":6546,"v":-2.92e6},{"s":"d15","c":"k","t":6547,"v":-2.1e6},{"s":"d15","c":"k","t":7400,"v":-2.45e6},{"s":"d15","c":"k","t":8760,"v":-3.2e6},
{"s":"d16","c":"k","t":4320,"v":-1.3e6},{"s":"d16","c":"k","t":4321,"v":-0.65e6},{"s":"d16","c":"k","t":5100,"v":-1.1e6},{"s":"d16","c":"k","t":5101,"v":-1.55e6},{"s":"d16","c":"k","t":5770,"v":-1.98e6},{"s":"d16","c":"k","t":6546,"v":-2.3e6},{"s":"d16","c":"k","t":7400,"v":-2.5e6},{"s":"d16","c":"k","t":8760,"v":-3.15e6},
{"s":"d17","c":"k","t":4320,"v":-1.25e6},{"s":"d17","c":"k","t":4321,"v":-1.02e6},{"s":"d17","c":"k","t":5777,"v":-2.74e6},{"s":"d17","c":"k","t":5778,"v":-1.7e6},{"s":"d17","c":"k","t":6546,"v":-2.43e6},{"s":"d17","c":"k","t":6547,"v":-1.95e6},{"s":"d17","c":"k","t":7400,"v":-2.35e6},{"s":"d17","c":"k","t":8760,"v":-3.12e6},
{"s":"d18","c":"m","t":5771,"v":-1.9e6},{"s":"d18","c":"m","t":6546,"v":-2.3e6},{"s":"d18","c":"m","t":7400,"v":-2.6e6},{"s":"d18","c":"m","t":8760,"v":-3.3e6},
{"s":"d19","c":"b","t":5771,"v":-1.75e6},{"s":"d19","c":"b","t":6546,"v":-2.2e6},{"s":"d19","c":"b","t":7400,"v":-2.45e6},{"s":"d19","c":"b","t":8760,"v":-3.15e6},
{"s":"d20","c":"g","t":4880,"v":-0.12e6},{"s":"d20","c":"g","t":5520,"v":-0.86e6},{"s":"d20","c":"g","t":6160,"v":-1.41e6},{"s":"d20","c":"g","t":6546,"v":-1.47e6},{"s":"d20","c":"g","t":7400,"v":-1.95e6},{"s":"d20","c":"g","t":8760,"v":-2.95e6}
],
"p3": [
{"s":"e1","c":"r","t":0,"v":0},{"s":"e1","c":"r","t":120,"v":-0.02e6},{"s":"e1","c":"r","t":130,"v":-0.1e6},{"s":"e1","c":"r","t":620,"v":-0.18e6},{"s":"e1","c":"r","t":622,"v":-1.53e6},{"s":"e1","c":"r","t":790,"v":-1.53e6},{"s":"e1","c":"r","t":792,"v":-2.1e6},{"s":"e1","c":"r","t":826,"v":-2.1e6},{"s":"e1","c":"r","t":828,"v":-0.76e6},{"s":"e1","c":"r","t":895,"v":-0.76e6},{"s":"e1","c":"r","t":897,"v":-1.0e6},{"s":"e1","c":"r","t":1135,"v":-1.13e6},{"s":"e1","c":"r","t":1137,"v":0.37e6},{"s":"e1","c":"r","t":1307,"v":0.37e6},{"s":"e1","c":"r","t":1309,"v":-0.09e6},{"s":"e1","c":"r","t":1341,"v":-0.48e6},{"s":"e1","c":"r","t":1461,"v":-0.48e6},{"s":"e1","c":"r","t":1463,"v":0.13e6},{"s":"e1","c":"r","t":2148,"v":0.1e6},{"s":"e1","c":"r","t":2150,"v":0.49e6},{"s":"e1","c":"r","t":2600,"v":0.53e6},{"s":"e1","c":"r","t":2957,"v":0.53e6},{"s":"e1","c":"r","t":3341,"v":0.46e6},{"s":"e1","c":"r","t":3726,"v":0.28e6},{"s":"e1","c":"r","t":4046,"v":0.1e6},{"s":"e1","c":"r","t":4330,"v":0.04e6},{"s":"e1","c":"r","t":4331,"v":0.2e6},{"s":"e1","c":"r","t":5072,"v":-0.55e6},{"s":"e1","c":"r","t":5777,"v":-1.15e6},{"s":"e1","c":"r","t":6546,"v":-1.72e6},{"s":"e1","c":"r","t":7400,"v":-2.2e6},{"s":"e1","c":"r","t":8000,"v":-2.55e6},{"s":"e1","c":"r","t":8760,"v":-3.0e6},
{"s":"e2","c":"o","t":0,"v":0},{"s":"e2","c":"o","t":140,"v":-0.1e6},{"s":"e2","c":"o","t":176,"v":-0.45e6},{"s":"e2","c":"o","t":300,"v":-0.55e6},{"s":"e2","c":"o","t":420,"v":-0.68e6},{"s":"e2","c":"o","t":622,"v":-0.7e6},{"s":"e2","c":"o","t":656,"v":-1.19e6},{"s":"e2","c":"o","t":725,"v":-1.44e6},{"s":"e2","c":"o","t":794,"v":-2.2e6},{"s":"e2","c":"o","t":1500,"v":-2.25e6},{"s":"e2","c":"o","t":2133,"v":-2.3e6},{"s":"e2","c":"o","t":2511,"v":-2.2e6},{"s":"e2","c":"o","t":2888,"v":-2.12e6},{"s":"e2","c":"o","t":3575,"v":-1.93e6},{"s":"e2","c":"o","t":4331,"v":-1.68e6},{"s":"e2","c":"o","t":4332,"v":-1.5e6},{"s":"e2","c":"o","t":5000,"v":-1.85e6},{"s":"e2","c":"o","t":5777,"v":-2.1e6},{"s":"e2","c":"o","t":6546,"v":-2.3e6},{"s":"e2","c":"o","t":7400,"v":-2.62e6},{"s":"e2","c":"o","t":8760,"v":-3.05e6},
{"s":"e3","c":"o","t":828,"v":-1.07e6},{"s":"e3","c":"o","t":1900,"v":-1.17e6},{"s":"e3","c":"o","t":2148,"v":-1.3e6},{"s":"e3","c":"o","t":2150,"v":0.1e6},{"s":"e3","c":"o","t":2600,"v":0.17e6},{"s":"e3","c":"o","t":3565,"v":0.16e6},{"s":"e3","c":"o","t":4333,"v":0.18e6},{"s":"e3","c":"o","t":4334,"v":-2.73e6},{"s":"e3","c":"o","t":4847,"v":-2.48e6},{"s":"e3","c":"o","t":5777,"v":-2.17e6},{"s":"e3","c":"o","t":6546,"v":-2.3e6},{"s":"e3","c":"o","t":6547,"v":-1.44e6},{"s":"e3","c":"o","t":7400,"v":-1.9e6},{"s":"e3","c":"o","t":8773,"v":-2.77e6},
{"s":"e4","c":"y","t":790,"v":-1.53e6},{"s":"e4","c":"y","t":794,"v":-0.52e6},{"s":"e4","c":"y","t":895,"v":-0.52e6},{"s":"e4","c":"y","t":897,"v":0.2e6},{"s":"e4","c":"y","t":1446,"v":0.18e6},{"s":"e4","c":"y","t":2150,"v":0},{"s":"e4","c":"y","t":2850,"v":0},{"s":"e4","c":"y","t":2854,"v":-0.8e6},{"s":"e4","c":"y","t":3575,"v":-0.7e6},{"s":"e4","c":"y","t":4331,"v":-0.76e6},{"s":"e4","c":"y","t":4334,"v":-0.45e6},{"s":"e4","c":"y","t":5000,"v":-1.05e6},{"s":"e4","c":"y","t":5777,"v":-1.7e6},{"s":"e4","c":"y","t":6546,"v":-2.05e6},{"s":"e4","c":"y","t":7400,"v":-2.5e6},{"s":"e4","c":"y","t":7924,"v":-2.85e6},{"s":"e4","c":"y","t":7950,"v":-2.86e6},
{"s":"e5","c":"c","t":1341,"v":-0.48e6},{"s":"e5","c":"c","t":1461,"v":-0.48e6},{"s":"e5","c":"c","t":1463,"v":-1.25e6},{"s":"e5","c":"c","t":2131,"v":-1.19e6},{"s":"e5","c":"c","t":2133,"v":-0.76e6},{"s":"e5","c":"c","t":2500,"v":-0.6e6},{"s":"e5","c":"c","t":2764,"v":-0.55e6},{"s":"e5","c":"c","t":3575,"v":-0.6e6},{"s":"e5","c":"c","t":4046,"v":-0.7e6},{"s":"e5","c":"c","t":4334,"v":-0.88e6},{"s":"e5","c":"c","t":5424,"v":-1.99e6},{"s":"e5","c":"c","t":5777,"v":-2.36e6},{"s":"e5","c":"c","t":5778,"v":-1.9e6},{"s":"e5","c":"c","t":6546,"v":-2.2e6},{"s":"e5","c":"c","t":7400,"v":-2.6e6},{"s":"e5","c":"c","t":8760,"v":-3.1e6},
{"s":"e6","c":"c","t":2148,"v":-1.3e6},{"s":"e6","c":"c","t":2150,"v":-1.44e6},{"s":"e6","c":"c","t":2511,"v":-1.44e6},{"s":"e6","c":"c","t":2512,"v":-0.97e6},{"s":"e6","c":"c","t":2764,"v":-0.97e6},{"s":"e6","c":"c","t":3600,"v":-0.8e6},{"s":"e6","c":"c","t":4334,"v":-0.82e6},{"s":"e6","c":"c","t":4335,"v":-0.6e6},{"s":"e6","c":"c","t":5000,"v":-1.15e6},{"s":"e6","c":"c","t":5777,"v":-1.82e6},{"s":"e6","c":"c","t":6546,"v":-2.22e6},{"s":"e6","c":"c","t":7400,"v":-2.6e6},{"s":"e6","c":"c","t":8760,"v":-3.1e6},
{"s":"e7","c":"b","t":2511,"v":-1.44e6},{"s":"e7","c":"b","t":2512,"v":-1.53e6},{"s":"e7","c":"b","t":2764,"v":-1.56e6},{"s":"e7","c":"b","t":2860,"v":-1.93e6},{"s":"e7","c":"b","t":2908,"v":-2.79e6},{"s":"e7","c":"b","t":3200,"v":-2.6e6},{"s":"e7","c":"b","t":3726,"v":-2.17e6},{"s":"e7","c":"b","t":4334,"v":-1.91e6},{"s":"e7","c":"b","t":5136,"v":-1.91e6},{"s":"e7","c":"b","t":5500,"v":-1.92e6},{"s":"e7","c":"b","t":6546,"v":-2.11e6},{"s":"e7","c":"b","t":7400,"v":-2.5e6},{"s":"e7","c":"b","t":8760,"v":-3.05e6},
{"s":"e8","c":"g","t":1130,"v":-1.13e6},{"s":"e8","c":"g","t":1131,"v":-3.09e6},{"s":"e8","c":"g","t":1240,"v":-3.09e6},{"s":"e8","c":"g","t":1241,"v":-2.81e6},{"s":"e8","c":"g","t":2000,"v":-2.8e6},{"s":"e8","c":"g","t":2545,"v":-2.81e6},{"s":"e8","c":"g","t":2717,"v":-2.64e6},{"s":"e8","c":"g","t":2888,"v":-2.52e6},{"s":"e8","c":"g","t":3575,"v":-1.93e6},{"s":"e8","c":"g","t":3850,"v":-1.58e6},{"s":"e8","c":"g","t":3860,"v":-1.75e6},{"s":"e8","c":"g","t":4000,"v":-1.8e6},{"s":"e8","c":"g","t":4334,"v":-1.56e6},{"s":"e8","c":"g","t":4687,"v":-1.5e6},{"s":"e8","c":"g","t":5168,"v":-1.63e6},{"s":"e8","c":"g","t":5777,"v":-1.9e6},{"s":"e8","c":"g","t":6546,"v":-2.36e6},{"s":"e8","c":"g","t":6547,"v":-0.58e6},{"s":"e8","c":"g","t":6995,"v":-0.48e6},{"s":"e8","c":"g","t":7283,"v":-0.43e6},{"s":"e8","c":"g","t":7956,"v":-0.7e6},{"s":"e8","c":"g","t":8773,"v":-1.25e6},
{"s":"e9","c":"r","t":2916,"v":0.5e6},{"s":"e9","c":"r","t":2917,"v":-1.13e6},{"s":"e9","c":"r","t":3309,"v":-1.13e6},{"s":"e9","c":"r","t":3340,"v":-0.95e6},{"s":"e9","c":"r","t":3645,"v":-0.98e6},{"s":"e9","c":"r","t":3646,"v":0.1e6},{"s":"e9","c":"r","t":4334,"v":0.05e6},{"s":"e9","c":"r","t":4335,"v":0},{"s":"e9","c":"r","t":5072,"v":-0.68e6},{"s":"e9","c":"r","t":5777,"v":-1.3e6},{"s":"e9","c":"r","t":6546,"v":-1.82e6},{"s":"e9","c":"r","t":7400,"v":-2.3e6},{"s":"e9","c":"r","t":8760,"v":-3.0e6},
{"s":"e10","c":"r","t":2916,"v":0.5e6},{"s":"e10","c":"r","t":2917,"v":-1.38e6},{"s":"e10","c":"r","t":3369,"v":-1.38e6},{"s":"e10","c":"r","t":3370,"v":-0.76e6},{"s":"e10","c":"r","t":4334,"v":-0.8e6},{"s":"e10","c":"r","t":4335,"v":0.12e6},{"s":"e10","c":"r","t":5072,"v":-0.6e6},{"s":"e10","c":"r","t":5777,"v":-1.22e6},{"s":"e10","c":"r","t":6546,"v":-1.78e6},{"s":"e10","c":"r","t":6547,"v":-0.62e6},{"s":"e10","c":"r","t":6802,"v":-0.52e6},{"s":"e10","c":"r","t":7283,"v":-0.5e6},{"s":"e10","c":"r","t":7956,"v":-0.76e6},{"s":"e10","c":"r","t":8773,"v":-1.41e6},
{"s":"e11","c":"k","t":4000,"v":-1.7e6},{"s":"e11","c":"k","t":4334,"v":-1.6e6},{"s":"e11","c":"k","t":4335,"v":-0.31e6},{"s":"e11","c":"k","t":5072,"v":-0.92e6},{"s":"e11","c":"k","t":5745,"v":-1.99e6},{"s":"e11","c":"k","t":5777,"v":-2.0e6},{"s":"e11","c":"k","t":5778,"v":-1.5e6},{"s":"e11","c":"k","t":6546,"v":-2.0e6},{"s":"e11","c":"k","t":7400,"v":-2.45e6},{"s":"e11","c":"k","t":7924,"v":-2.7e6},{"s":"e11","c":"k","t":7950,"v":-2.9e6},
{"s":"e12","c":"k","t":4000,"v":-1.95e6},{"s":"e12","c":"k","t":4334,"v":-1.68e6},{"s":"e12","c":"k","t":4335,"v":-1.32e6},{"s":"e12","c":"k","t":5072,"v":-1.56e6},{"s":"e12","c":"k","t":5777,"v":-1.8e6},{"s":"e12","c":"k","t":6546,"v":-2.2e6},{"s":"e12","c":"k","t":6547,"v":-1.01e6},{"s":"e12","c":"k","t":6770,"v":-0.95e6},{"s":"e12","c":"k","t":7476,"v":-1.13e6},{"s":"e12","c":"k","t":8773,"v":-1.99e6},
{"s":"e13","c":"m","t":5777,"v":-1.6e6},{"s":"e13","c":"m","t":6546,"v":-2.0e6},{"s":"e13","c":"m","t":7400,"v":-2.5e6},{"s":"e13","c":"m","t":8760,"v":-3.0e6},
{"s":"e14","c":"y","t":4334,"v":-0.1e6},{"s":"e14","c":"y","t":5072,"v":-0.62e6},{"s":"e14","c":"y","t":5777,"v":-1.3e6},{"s":"e14","c":"y","t":6546,"v":-1.7e6},{"s":"e14","c":"y","t":7400,"v":-2.25e6},{"s":"e14","c":"y","t":8760,"v":-3.08e6},
{"s":"e15","c":"o","t":3565,"v":0.14e6},{"s":"e15","c":"o","t":4333,"v":0.15e6},{"s":"e15","c":"o","t":4334,"v":0.22e6},{"s":"e15","c":"o","t":5072,"v":-0.48e6},{"s":"e15","c":"o","t":5777,"v":-1.1e6},{"s":"e15","c":"o","t":6546,"v":-1.6e6},{"s":"e15","c":"o","t":7315,"v":-2.1e6},{"s":"e15","c":"o","t":8760,"v":-2.95e6},
{"s":"e16","c":"r","t":4330,"v":0.04e6},{"s":"e16","c":"r","t":4335,"v":0.1e6},{"s":"e16","c":"r","t":5072,"v":-0.62e6},{"s":"e16","c":"r","t":5777,"v":-1.25e6},{"s":"e16","c":"r","t":6546,"v":-1.68e6},{"s":"e16","c":"r","t":7400,"v":-2.2e6},{"s":"e16","c":"r","t":8760,"v":-3.02e6}
]
},
"vconcat": [
{
 "width": 936, "height": 314,
 "resolve": {"axis": {"x": "independent", "y": "independent"}},
 "layer": [
  {
   "data": {"name": "p1"},
   "mark": {"type": "line", "strokeWidth": 1.6, "clip": true},
   "encoding": {
    "x": {"field": "t", "type": "quantitative", "scale": {"domain": [0, 9000], "nice": false, "zero": false}, "axis": {"orient": "bottom", "values": [0,1000,2000,3000,4000,5000,6000,7000,8000,9000], "labels": false, "title": null}},
    "y": {"field": "v", "type": "quantitative", "scale": {"domain": [-8500000, 3000000], "nice": false, "zero": false}, "axis": {"orient": "left", "values": [2000000,0,-2000000,-4000000,-6000000,-8000000], "labelPadding": 22, "title": null, "labelExpr": "datum.value == 0 ? '0' : (datum.value < 0 ? '-' : '') + format(abs(datum.value) / 1000000, 'd') + 'e+06'"}},
    "color": {"field": "c", "type": "nominal", "legend": null, "scale": {"domain": ["r","g","b","m","c","y","k","o"], "range": ["#ff0000","#00ff00","#0000ff","#ff00ff","#00ffff","#ffff00","#000000","#ff6a1f"]}},
    "detail": {"field": "s"}
   }
  },
  {
   "data": {"values": [{"t": 187, "v": 1445000, "label": "[€]"}]},
   "mark": {"type": "text", "font": "Liberation Sans", "fontSize": 40, "align": "left", "baseline": "alphabetic", "color": "#1a1a1a"},
   "encoding": {
    "x": {"field": "t", "type": "quantitative", "scale": {"domain": [0, 9000], "nice": false, "zero": false}, "axis": {"orient": "top", "values": [0,1000,2000,3000,4000,5000,6000,7000,8000,9000], "labels": false, "title": null}},
    "y": {"field": "v", "type": "quantitative", "scale": {"domain": [-8500000, 3000000], "nice": false, "zero": false}, "axis": {"orient": "right", "values": [2000000,0,-2000000,-4000000,-6000000,-8000000], "labels": false, "title": null}},
    "text": {"field": "label"}
   }
  }
 ]
},
{
 "width": 936, "height": 314,
 "resolve": {"axis": {"x": "independent", "y": "independent"}},
 "layer": [
  {
   "data": {"name": "p2"},
   "mark": {"type": "line", "strokeWidth": 1.6, "clip": true},
   "encoding": {
    "x": {"field": "t", "type": "quantitative", "scale": {"domain": [0, 9000], "nice": false, "zero": false}, "axis": {"orient": "bottom", "values": [0,1000,2000,3000,4000,5000,6000,7000,8000,9000], "labels": false, "title": null}},
    "y": {"field": "v", "type": "quantitative", "scale": {"domain": [-8500000, 3000000], "nice": false, "zero": false}, "axis": {"orient": "left", "values": [2000000,0,-2000000,-4000000,-6000000,-8000000], "labelPadding": 22, "title": null, "labelExpr": "datum.value == 0 ? '0' : (datum.value < 0 ? '-' : '') + format(abs(datum.value) / 1000000, 'd') + 'e+06'"}},
    "color": {"field": "c", "type": "nominal", "legend": null, "scale": {"domain": ["r","g","b","m","c","y","k","o"], "range": ["#ff0000","#00ff00","#0000ff","#ff00ff","#00ffff","#ffff00","#000000","#ff6a1f"]}},
    "detail": {"field": "s"}
   }
  },
  {
   "data": {"values": [{"id": "hs", "t": 7159, "t2": 10736, "v": 2342000, "v2": 6513000}, {"id": "ss", "t": 7438, "t2": 10736, "v": -8635000, "v2": -5525000}]},
   "mark": {"type": "rect", "fill": "#a3d1ef", "stroke": "#1a1a1a", "strokeWidth": 2, "cornerRadius": 18},
   "encoding": {
    "x": {"field": "t", "type": "quantitative", "scale": {"domain": [0, 9000], "nice": false, "zero": false}, "axis": null},
    "x2": {"field": "t2"},
    "y": {"field": "v", "type": "quantitative", "scale": {"domain": [-8500000, 3000000], "nice": false, "zero": false}, "axis": null},
    "y2": {"field": "v2"}
   }
  },
  {
   "data": {"values": [{"id": "hs", "i": 0, "t": 7764, "v": 6370000}, {"id": "hs", "i": 1, "t": 8719, "v": 7600000}, {"id": "hs", "i": 2, "t": 8649, "v": 6370000}, {"id": "ss", "i": 0, "t": 7988, "v": -5670000}, {"id": "ss", "i": 1, "t": 8671, "v": -3685000}, {"id": "ss", "i": 2, "t": 8813, "v": -5670000}]},
   "mark": {"type": "line", "fill": "#a3d1ef", "stroke": "#1a1a1a", "strokeWidth": 2, "interpolate": "linear"},
   "encoding": {
    "x": {"field": "t", "type": "quantitative", "scale": {"domain": [0, 9000], "nice": false, "zero": false}, "axis": null},
    "y": {"field": "v", "type": "quantitative", "scale": {"domain": [-8500000, 3000000], "nice": false, "zero": false}, "axis": null},
    "detail": {"field": "id"},
    "order": {"field": "i", "type": "quantitative"}
   }
  },
  {
   "data": {"values": [{"t": 8947, "v": 4793000, "label": "Huge spread"}, {"t": 8947, "v": 2854000, "label": "(“risk”)"}, {"t": 9087, "v": -7710000, "label": "Small spread"}]},
   "mark": {"type": "text", "font": "Liberation Sans", "fontWeight": "bold", "fontSize": 44, "align": "center", "baseline": "alphabetic", "color": "#000000"},
   "encoding": {
    "x": {"field": "t", "type": "quantitative", "scale": {"domain": [0, 9000], "nice": false, "zero": false}, "axis": {"orient": "top", "values": [0,1000,2000,3000,4000,5000,6000,7000,8000,9000], "labels": false, "title": null}},
    "y": {"field": "v", "type": "quantitative", "scale": {"domain": [-8500000, 3000000], "nice": false, "zero": false}, "axis": {"orient": "right", "values": [2000000,0,-2000000,-4000000,-6000000,-8000000], "labels": false, "title": null}},
    "text": {"field": "label"}
   }
  }
 ]
},
{
 "width": 936, "height": 314,
 "resolve": {"axis": {"x": "independent", "y": "independent"}},
 "layer": [
  {
   "data": {"name": "p3"},
   "mark": {"type": "line", "strokeWidth": 1.6, "clip": true},
   "encoding": {
    "x": {"field": "t", "type": "quantitative", "scale": {"domain": [0, 9000], "nice": false, "zero": false}, "axis": {"orient": "bottom", "values": [0,1000,2000,3000,4000,5000,6000,7000,8000,9000], "format": "d", "labelPadding": 23, "title": null}},
    "y": {"field": "v", "type": "quantitative", "scale": {"domain": [-8500000, 3000000], "nice": false, "zero": false}, "axis": {"orient": "left", "values": [2000000,0,-2000000,-4000000,-6000000,-8000000], "labelPadding": 22, "title": null, "labelExpr": "datum.value == 0 ? '0' : (datum.value < 0 ? '-' : '') + format(abs(datum.value) / 1000000, 'd') + 'e+06'"}},
    "color": {"field": "c", "type": "nominal", "legend": null, "scale": {"domain": ["r","g","b","m","c","y","k","o"], "range": ["#ff0000","#00ff00","#0000ff","#ff00ff","#00ffff","#ffff00","#000000","#ff6a1f"]}},
    "detail": {"field": "s"}
   }
  },
  {
   "data": {"values": [{"id": "sn", "t": 2639, "t2": 6880, "v": 2854000, "v2": 6476000}, {"id": "es", "t": 2639, "t2": 5938, "v": -7611000, "v2": -4464000}]},
   "mark": {"type": "rect", "fill": "#a3d1ef", "stroke": "#1a1a1a", "strokeWidth": 2, "cornerRadius": 18},
   "encoding": {
    "x": {"field": "t", "type": "quantitative", "scale": {"domain": [0, 9000], "nice": false, "zero": false}, "axis": null},
    "x2": {"field": "t2"},
    "y": {"field": "v", "type": "quantitative", "scale": {"domain": [-8500000, 3000000], "nice": false, "zero": false}, "axis": null},
    "y2": {"field": "v2"}
   }
  },
  {
   "data": {"values": [{"id": "sn", "i": 0, "t": 2677, "v": 5927000}, {"id": "sn", "i": 1, "t": 1505, "v": 5939000}, {"id": "sn", "i": 2, "t": 2677, "v": 5013000}, {"id": "el", "i": 0, "t": 2677, "v": -4976000}, {"id": "el", "i": 1, "t": 1239, "v": -3246000}, {"id": "el", "i": 2, "t": 2677, "v": -5734000}, {"id": "er", "i": 0, "t": 5900, "v": -4976000}, {"id": "er", "i": 1, "t": 8502, "v": -3267000}, {"id": "er", "i": 2, "t": 5900, "v": -5734000}]},
   "mark": {"type": "line", "fill": "#a3d1ef", "stroke": "#1a1a1a", "strokeWidth": 2, "interpolate": "linear"},
   "encoding": {
    "x": {"field": "t", "type": "quantitative", "scale": {"domain": [0, 9000], "nice": false, "zero": false}, "axis": null},
    "y": {"field": "v", "type": "quantitative", "scale": {"domain": [-8500000, 3000000], "nice": false, "zero": false}, "axis": null},
    "detail": {"field": "id"},
    "order": {"field": "i", "type": "quantitative"}
   }
  },
  {
   "data": {"values": [{"t": 4764, "v": 5060000, "label": "Strongly"}, {"t": 4764, "v": 3110000, "label": "negative values"}, {"t": 4279, "v": -6623000, "label": "Even spread"}]},
   "mark": {"type": "text", "font": "Liberation Sans", "fontWeight": "bold", "fontSize": 44, "align": "center", "baseline": "alphabetic", "color": "#000000"},
   "encoding": {
    "x": {"field": "t", "type": "quantitative", "scale": {"domain": [0, 9000], "nice": false, "zero": false}, "axis": {"orient": "top", "values": [0,1000,2000,3000,4000,5000,6000,7000,8000,9000], "labels": false, "title": null}},
    "y": {"field": "v", "type": "quantitative", "scale": {"domain": [-8500000, 3000000], "nice": false, "zero": false}, "axis": {"orient": "right", "values": [2000000,0,-2000000,-4000000,-6000000,-8000000], "labels": false, "title": null}},
    "text": {"field": "label"}
   }
  },
  {
   "data": {"values": [{"t": -548, "v": -9750000, "label": "t="}]},
   "mark": {"type": "text", "font": "Liberation Sans", "fontWeight": "bold", "fontSize": 36, "align": "center", "baseline": "bottom", "color": "#000000"},
   "encoding": {
    "x": {"field": "t", "type": "quantitative", "scale": {"domain": [0, 9000], "nice": false, "zero": false}, "axis": null},
    "y": {"field": "v", "type": "quantitative", "scale": {"domain": [-8500000, 3000000], "nice": false, "zero": false}, "axis": null},
    "text": {"field": "label"}
   }
  }
 ]
}
]
}
